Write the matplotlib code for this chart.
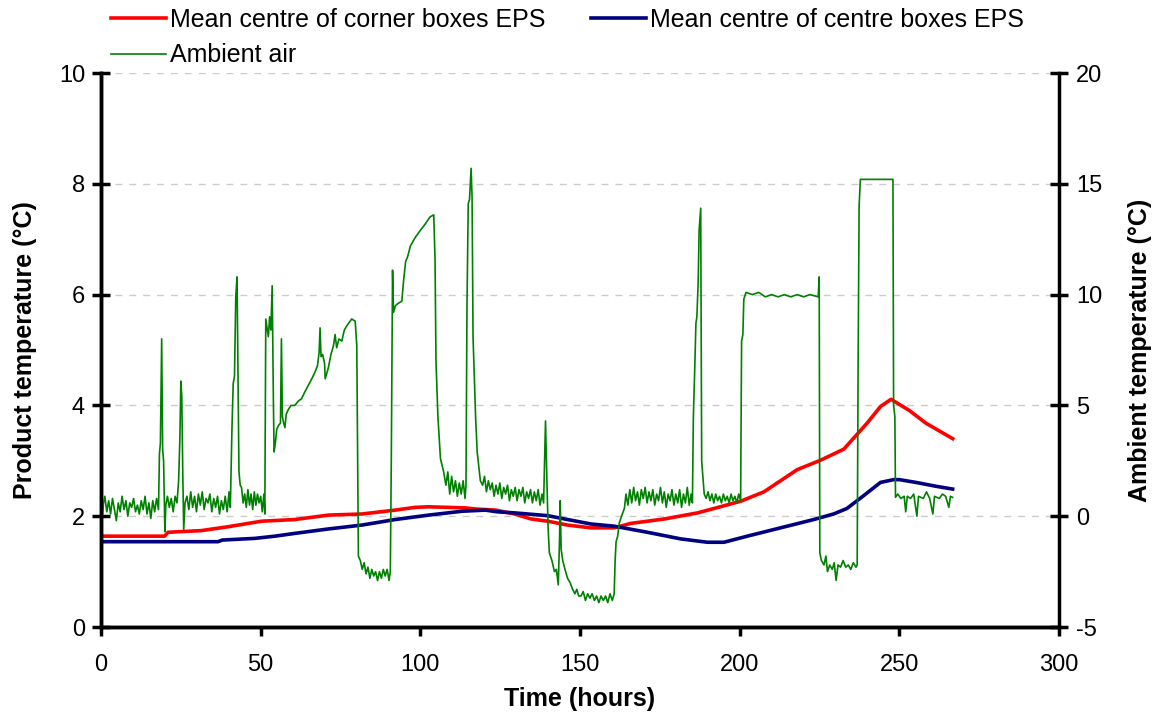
import numpy as np
import matplotlib
matplotlib.use("Agg")
import matplotlib.pyplot as plt

plt.rcParams['font.family'] = ['Liberation Sans', 'DejaVu Sans']
plt.rcParams['axes.unicode_minus'] = False

# product temperatures (left axis, degC) against time in hours
corner_hours = [0, 19.9, 21, 31.4, 39.8, 50.3, 60.7, 71.2, 81.7, 92.1, 98.4, 102.6,
                114.1, 117.3, 123.6, 129.5, 134.7, 139.9, 146.1, 153.4, 160.7, 165.9,
                176.4, 186.8, 192, 200.3, 207.6, 218, 225.3, 232.6, 236.8, 239.9,
                244.1, 247.4, 253.1, 258.3, 266.7]
corner_temp = [1.64, 1.64, 1.71, 1.74, 1.81, 1.91, 1.94, 2.02, 2.04, 2.11, 2.16, 2.17,
               2.15, 2.13, 2.11, 2.04, 1.95, 1.91, 1.84, 1.79, 1.79, 1.87,
               1.95, 2.06, 2.14, 2.27, 2.44, 2.84, 3.01, 3.21, 3.48, 3.68,
               3.98, 4.11, 3.91, 3.68, 3.40]

centre_hours = [0, 36.6, 38, 48.2, 54.5, 60.7, 71.2, 81.7, 92.1, 102.6, 113.1, 120.4,
                124, 129.5, 139.9, 146.1, 153.4, 160.7, 171.1, 181.6, 189.9, 195.1,
                202.4, 212.8, 223.2, 229.4, 233.6, 238.8, 244.1, 248.2, 250, 255.2,
                261.5, 266.7]
centre_temp = [1.54, 1.54, 1.57, 1.60, 1.64, 1.69, 1.77, 1.84, 1.94, 2.02, 2.09, 2.11,
               2.08, 2.06, 2.01, 1.94, 1.86, 1.82, 1.71, 1.59, 1.53, 1.53,
               1.64, 1.79, 1.94, 2.04, 2.14, 2.37, 2.61, 2.66, 2.66, 2.61,
               2.54, 2.49]

# ambient air logger (right axis, degC): (hours, temperature)
ambient_air = [
    (0.0, -0.8), (0.2, 3.5), (0.4, 0.0), (0.8, 0.6),
    (1.2, 0.9), (1.8, 0.2), (2.4, 0.7), (3.0, 0.1), (3.6, 0.8), (4.2, 0.3), (4.8, -0.2),
    (5.4, 0.6), (6.0, 0.2), (6.6, 0.9), (7.2, 0.3), (7.8, 0.7), (8.4, 0.0), (9.0, 0.6),
    (9.6, 0.4), (10.2, 0.8), (10.8, 0.2), (11.4, 0.5), (12.0, 0.1), (12.6, 0.7), (13.2, 0.3),
    (13.8, 0.9), (14.4, 0.1), (15.0, 0.6), (15.6, -0.1), (16.2, 0.7), (16.8, 0.2), (17.4, 0.8),
    (18.0, 0.3), (18.3, 2.8), (18.6, 3.3), (19.0, 8.0), (19.3, 3.0), (19.6, 2.5), (20.0, -0.7),
    (20.3, 0.5), (20.8, 0.9), (21.4, 0.4), (22.0, 0.8), (22.6, 0.2), (23.2, 0.9), (23.8, 0.6),
    (24.3, 1.6), (24.7, 3.5), (25.0, 6.1), (25.3, 5.4), (25.6, 2.0), (25.9, -0.6), (26.3, 0.6),
    (26.9, 0.9), (27.5, 0.3), (28.1, 1.1), (28.7, 0.4), (29.3, 0.9), (29.9, 0.2), (30.5, 1.0),
    (31.1, 0.5), (31.7, 1.1), (32.3, 0.3), (32.9, 0.8), (33.5, 0.6), (34.1, 1.0), (34.7, 0.2),
    (35.3, 0.8), (35.9, 0.4), (36.5, 0.9), (37.1, 0.1), (37.7, 0.7), (38.3, 0.3), (38.9, 0.9),
    (39.5, 0.2), (40.1, 1.1), (40.5, 0.4),
    (41.0, 3.9), (41.4, 6.0), (41.8, 6.3), (42.2, 9.9), (42.6, 10.8), (42.9, 6.4), (43.2, 2.0),
    (43.6, 1.4), (44.0, 1.3), (44.5, 0.6), (45.0, 1.0), (45.5, 0.4), (46.0, 1.2), (46.5, 0.5),
    (47.0, 1.0), (47.5, 0.3), (48.0, 1.1), (48.5, 0.5), (49.0, 1.0), (49.5, 0.6), (50.0, 0.9),
    (50.5, 0.2), (51.0, 1.0), (51.3, 0.1),
    (51.6, 8.9), (52.0, 8.5), (52.4, 8.1), (52.8, 9.0), (53.2, 8.4), (53.6, 10.4), (54.0, 5.0),
    (54.2, 2.9), (54.6, 3.3), (55.0, 3.9), (55.6, 4.1), (56.2, 4.2), (56.5, 8.0), (56.8, 4.5),
    (57.2, 4.2), (57.6, 4.0), (58.0, 4.6), (58.6, 4.8), (59.5, 5.0), (60.7, 5.0), (61.8, 5.2),
    (62.8, 5.3), (63.8, 5.6), (64.9, 5.9), (66.0, 6.2), (67.0, 6.5), (67.8, 6.8), (68.3, 7.4),
    (68.6, 8.5), (68.9, 7.2), (69.4, 7.3), (70.0, 6.9), (70.2, 6.2), (70.8, 6.5), (71.2, 6.7),
    (72.0, 7.3), (72.8, 7.7), (73.3, 8.2), (73.8, 7.6), (74.5, 8.0), (75.4, 7.9), (76.2, 8.4),
    (77.0, 8.6), (77.5, 8.7), (78.5, 8.9), (79.6, 8.8), (80.1, 7.7),
    (80.6, -1.8), (81.2, -2.0), (81.8, -2.4), (82.4, -2.1), (83.0, -2.6), (83.6, -2.3),
    (84.2, -2.8), (84.8, -2.4), (85.4, -2.7), (86.0, -2.5), (86.6, -2.9), (87.2, -2.5),
    (87.8, -2.8), (88.4, -2.4), (89.0, -2.7), (89.6, -2.4), (90.2, -2.9), (90.6, -2.5),
    (90.9, 2.4), (91.3, 11.1), (91.6, 9.2), (92.2, 9.5), (93.0, 9.6), (94.2, 9.7), (94.8, 10.7),
    (95.4, 11.5), (96.0, 11.7), (96.9, 12.2), (98.5, 12.6), (100.0, 12.9), (101.6, 13.2),
    (103.0, 13.5), (104.2, 13.6), (104.6, 11.6), (104.9, 7.0), (105.5, 4.5), (106.3, 2.6),
    (107.3, 2.0), (108.0, 1.4), (108.6, 2.0), (109.2, 1.0), (109.8, 1.8), (110.4, 1.1),
    (111.0, 1.6), (111.6, 0.9), (112.2, 1.5), (112.8, 1.0), (113.4, 1.6), (114.0, 0.8),
    (114.3, 1.4),
    (114.6, 9.4), (115.0, 14.1), (115.4, 14.3), (115.9, 15.7), (116.2, 14.4), (116.5, 8.1),
    (117.3, 4.5), (117.8, 2.9), (118.8, 1.6), (119.5, 1.4), (120.1, 1.8), (120.7, 1.1),
    (121.3, 1.6), (121.9, 1.2), (122.5, 1.5), (123.1, 0.9), (123.7, 1.4), (124.3, 1.0),
    (124.9, 1.5), (125.5, 0.8), (126.1, 1.3), (126.7, 1.0), (127.3, 1.4), (127.9, 0.7),
    (128.5, 1.2), (129.1, 0.9), (129.7, 1.3), (130.3, 0.7), (130.9, 1.2), (131.5, 0.9),
    (132.1, 1.3), (132.7, 0.6), (133.3, 1.1), (133.9, 0.8), (134.5, 1.2), (135.1, 0.6),
    (135.7, 1.1), (136.3, 0.7), (136.9, 1.2), (137.5, 0.5), (138.1, 1.0), (138.6, 0.6),
    (138.9, 2.5), (139.2, 4.3), (139.5, 2.4), (140.0, -0.5), (140.4, -1.65), (141.2, -2.0),
    (142.0, -2.5), (142.6, -2.4), (143.2, -3.1), (143.6, -1.0), (143.8, 0.7), (144.1, -1.5),
    (144.6, -2.0), (145.3, -2.4), (146.1, -2.8), (146.9, -3.0), (147.7, -3.3), (148.4, -3.5),
    (149.0, -3.3), (149.6, -3.6), (150.3, -3.6), (151.0, -3.4), (151.7, -3.8), (152.4, -3.5),
    (153.1, -3.7), (153.8, -3.5), (154.5, -3.8), (155.2, -3.6), (155.9, -3.9), (156.6, -3.6),
    (157.3, -3.8), (158.0, -3.6), (158.7, -3.9), (159.4, -3.5), (160.1, -3.8), (160.7, -3.5),
    (161.0, -2.0), (161.3, -1.15), (161.8, -0.9), (162.3, -0.3), (163.0, 0.0), (163.9, 0.35),
    (164.4, 1.0), (165.0, 0.5), (165.6, 1.2), (166.2, 0.6), (166.8, 1.3), (167.4, 0.7),
    (168.0, 1.1), (168.6, 0.5), (169.2, 1.2), (169.8, 0.8), (170.4, 1.3), (171.0, 0.6),
    (171.6, 1.1), (172.2, 0.7), (172.8, 1.2), (173.4, 0.5), (174.0, 1.0), (174.6, 0.7),
    (175.2, 1.3), (175.8, 0.6), (176.4, 1.1), (177.0, 0.4), (177.6, 1.0), (178.2, 0.7),
    (178.8, 1.2), (179.4, 0.5), (180.0, 1.0), (180.6, 0.6), (181.2, 1.2), (181.8, 0.4),
    (182.4, 1.0), (183.0, 0.6), (183.6, 1.3), (184.2, 0.5), (184.8, 1.0), (185.2, 0.6),
    (185.5, 4.5), (185.9, 6.5), (186.3, 8.7), (186.6, 9.0), (187.0, 10.55), (187.3, 12.9),
    (187.8, 13.9), (188.1, 2.5), (188.9, 1.0), (189.5, 0.8), (190.1, 1.1), (190.7, 0.7),
    (191.3, 1.0), (191.9, 0.6), (192.5, 1.0), (193.1, 0.7), (193.7, 0.9), (194.3, 0.6),
    (194.9, 1.0), (195.5, 0.7), (196.1, 0.9), (196.7, 0.6), (197.3, 1.0), (197.9, 0.7),
    (198.5, 0.9), (199.1, 0.6), (199.7, 1.0), (200.3, 0.7),
    (200.6, 7.9), (201.0, 8.2), (201.3, 9.8), (202.0, 10.1), (204.0, 10.0), (206.0, 10.1),
    (208.0, 9.9), (210.0, 10.0), (212.0, 9.9), (214.0, 10.0), (216.0, 9.9), (218.0, 10.0),
    (220.0, 9.9), (222.0, 10.0), (224.6, 9.9), (224.9, 10.8), (225.1, -1.65), (225.6, -2.0),
    (226.4, -2.2), (227.0, -1.8), (227.5, -2.5), (228.2, -2.2), (229.0, -2.4), (229.6, -2.1),
    (230.2, -2.9), (230.8, -2.2), (231.6, -2.3), (232.4, -2.0), (233.2, -2.3), (234.0, -2.2),
    (234.8, -2.4), (235.6, -2.1), (236.4, -2.3), (236.8, -2.2),
    (237.1, 7.0), (237.4, 14.0), (237.8, 15.2), (240.0, 15.2), (244.0, 15.2), (248.0, 15.2),
    (248.2, 5.0), (248.6, 4.5), (248.8, 0.85), (249.5, 1.0), (250.5, 0.8), (251.5, 0.9),
    (252.0, 0.2), (252.5, 0.9), (253.5, 0.8), (254.5, 1.0), (255.5, 0.0), (256.0, 0.9),
    (257.5, 0.8), (258.5, 1.1), (259.5, 0.8), (260.5, 0.1), (261.0, 0.9), (262.5, 0.8),
    (263.5, 1.0), (264.5, 0.9), (265.5, 0.4), (266.0, 0.9), (266.7, 0.85),
]
ambient_hours = np.array([p[0] for p in ambient_air])
ambient_temp = np.array([p[1] for p in ambient_air])

fig = plt.figure(figsize=(11.57, 7.13), dpi=100)
ax = fig.add_axes([0.0873, 0.1206, 0.828, 0.777])
ax2 = ax.twinx()

l1, = ax.plot(corner_hours, corner_temp, color='#ff0000', lw=2.6,
              label='Mean centre of corner boxes EPS')
l2, = ax.plot(centre_hours, centre_temp, color='#000080', lw=2.6,
              label='Mean centre of centre boxes EPS')
l3, = ax2.plot(ambient_hours, ambient_temp, color='#008000', lw=1.2,
               label='Ambient air')

ax.set_xlim(0, 300)
ax.set_ylim(0, 10)
ax2.set_ylim(-5, 20)
ax.set_xticks(np.arange(0, 301, 50))
ax.set_yticks(np.arange(0, 11, 2))
ax2.set_yticks(np.arange(-5, 21, 5))

ax.yaxis.grid(True, color='#cccccc', ls=(0, (5, 5)), lw=1)
ax.set_axisbelow(True)

for a in (ax, ax2):
    a.spines['top'].set_visible(False)
    for s in ('left', 'right', 'bottom'):
        a.spines[s].set_linewidth(2.5)
ax.spines['right'].set_visible(False)

ax.tick_params(axis='y', direction='inout', length=13, width=2.5, labelsize=17, pad=5)
ax.tick_params(axis='x', direction='out', length=6.5, width=2.5, labelsize=17, pad=13)
ax2.tick_params(axis='y', direction='inout', length=13, width=2.5, labelsize=17, pad=6)

ax.set_xlabel('Time (hours)', fontsize=18, fontweight='bold', labelpad=8)
ax.set_ylabel('Product temperature (°C)', fontsize=18, fontweight='bold', labelpad=16)
ax2.set_ylabel('Ambient temperature (°C)', fontsize=18, fontweight='bold', labelpad=18)

# row-major order: corner, centre on the first row, ambient underneath
fig.legend(handles=[l1, l3, l2], loc='upper left',
           bbox_to_anchor=(111 / 1157, 1 - 8 / 713),
           ncol=2, frameon=False, fontsize=18, handlelength=2.2, handletextpad=0.16,
           columnspacing=1.8, labelspacing=0.45, borderaxespad=0, borderpad=0)

fig.savefig('out.png', dpi=100)
